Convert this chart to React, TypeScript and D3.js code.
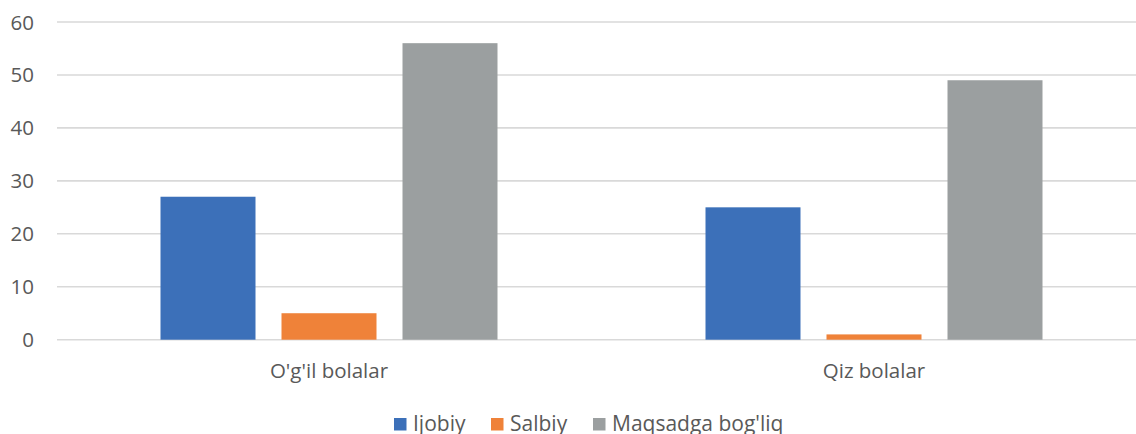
import React from "react";
import * as d3 from "d3";

const categories = ["O'g'il bolalar", "Qiz bolalar"];
const seriesNames = ["Ijobiy", "Salbiy", "Maqsadga bog'liq"];
const ijobiy = [27, 25];
const salbiy = [5, 1];
const maqsadga = [56, 49];
const yTicks = [0, 10, 20, 30, 40, 50, 60];

const colors = ["#3C70B9", "#EF8239", "#9B9FA0"];
const W = 1136;
const H = 434;
const FONT = "'Open Sans', sans-serif";

export default function App() {
  const seriesValues = [ijobiy, salbiy, maqsadga];
  const x0 = d3.scaleBand<string>().domain(categories).range([56.5, 1146.5]).paddingInner(0).paddingOuter(0);
  const y = d3.scaleLinear().domain([0, 60]).range([339.7, 22]);
  const groupWidth = 337;
  const x1 = d3
    .scaleBand<string>()
    .domain(seriesNames)
    .range([0, groupWidth])
    .paddingInner(26 / 121)
    .paddingOuter(0);

  const legendX = [394, 491, 593];

  return (
    <svg width={W} height={H} style={{ position: "absolute", left: 0, top: 0, display: "block" }}>
      <rect width={W} height={H} fill="#fff" />
      {yTicks.map((t) => (
        <g key={t}>
          <line x1={57} x2={W} y1={y(t)} y2={y(t)} stroke="#D9D9D9" strokeWidth={1.6} />
          <text x={34} y={y(t) + 7.5} textAnchor="end" fontFamily={FONT} fontSize={20.5} fill="#595959">
            {t}
          </text>
        </g>
      ))}
      {categories.map((c, ci) => {
        const gx = (x0(c) as number) + x0.bandwidth() / 2 - groupWidth / 2;
        return (
          <g key={c}>
            {seriesNames.map((s, si) => {
              const v = seriesValues[si][ci];
              return (
                <rect
                  key={s}
                  x={gx + (x1(s) as number)}
                  y={y(v)}
                  width={x1.bandwidth()}
                  height={y(0) - y(v)}
                  fill={colors[si]}
                />
              );
            })}
            <text
              x={(x0(c) as number) + x0.bandwidth() / 2}
              y={378}
              textAnchor="middle"
              fontFamily={FONT}
              fontSize={20.5}
              fill="#595959"
            >
              {c}
            </text>
          </g>
        );
      })}
      {seriesNames.map((s, i) => (
        <g key={s}>
          <rect x={legendX[i]} y={418} width={12.5} height={12.5} fill={colors[i]} />
          <text x={legendX[i] + 19} y={430.5} fontFamily={FONT} fontSize={21} fill="#595959">
            {s}
          </text>
        </g>
      ))}
    </svg>
  );
}
